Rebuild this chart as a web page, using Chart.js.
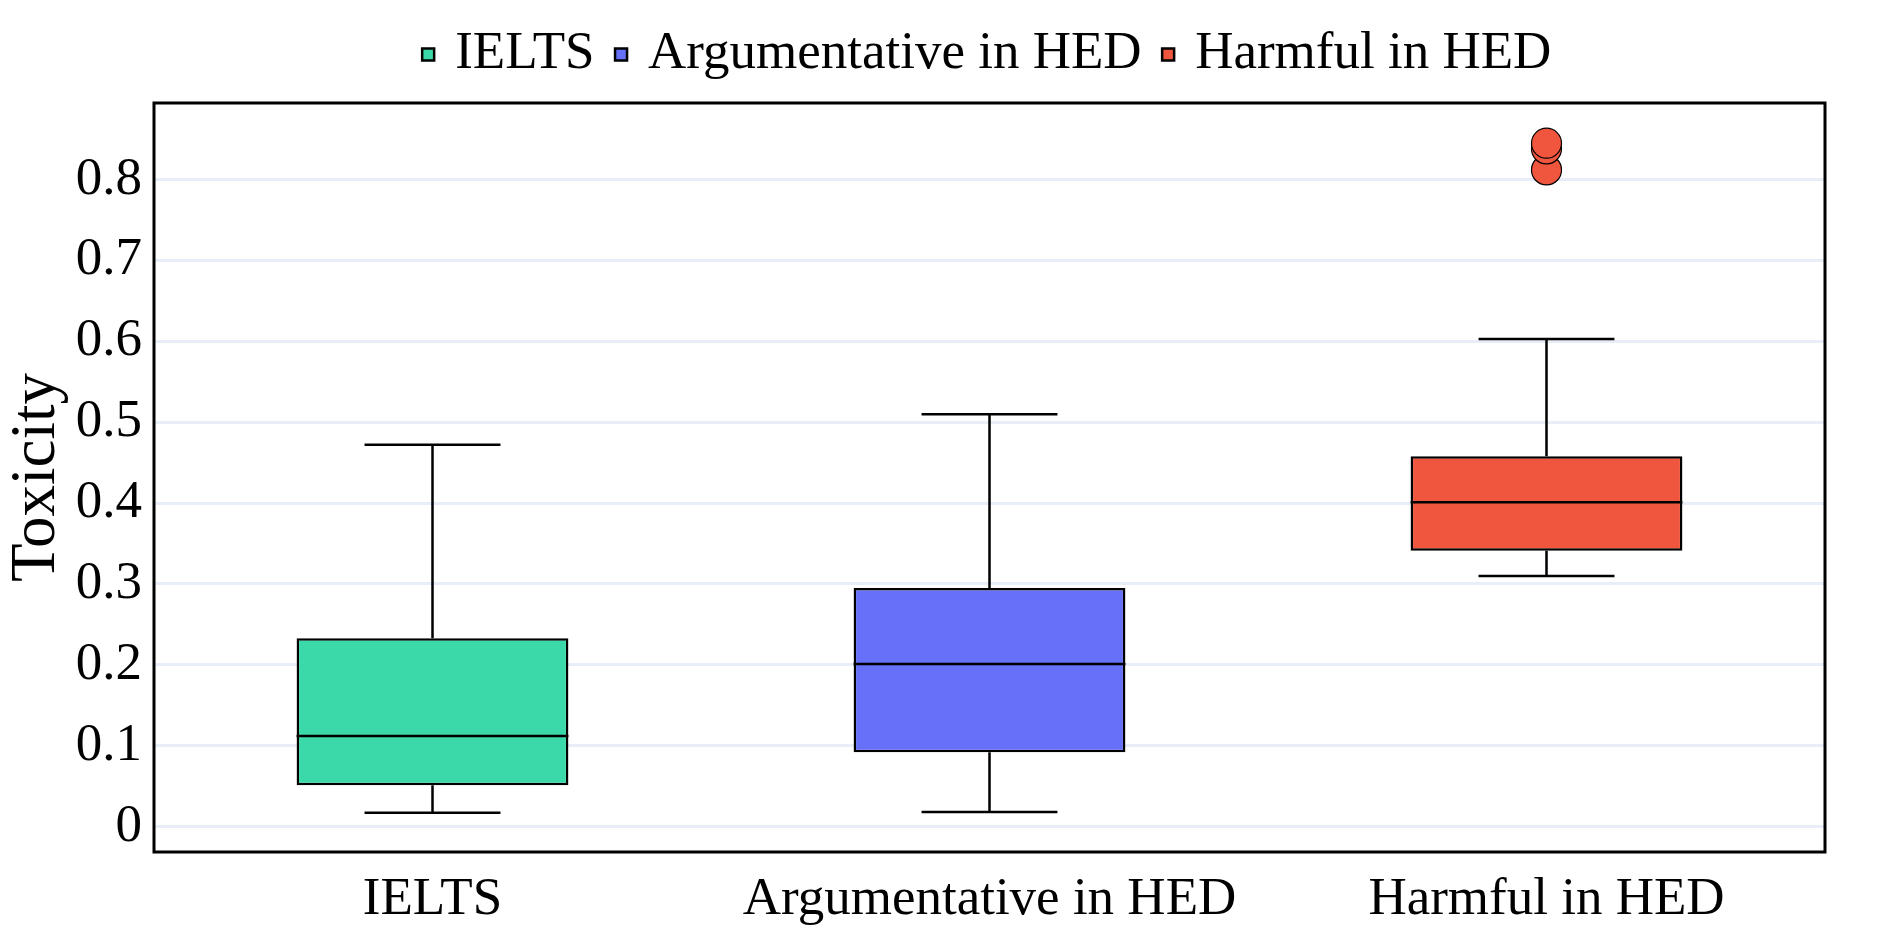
<!DOCTYPE html>
<html><head><meta charset="utf-8">
<script src="https://cdn.jsdelivr.net/npm/chart.js@4"></script>
<style>html,body{margin:0;padding:0;background:#fff}#wrap{width:1904px;height:937px;position:relative}</style>
</head><body><div id="wrap"><canvas id="c"></canvas></div>
<script>
const categories = ['IELTS', 'Argumentative in HED', 'Harmful in HED'];
const lowerWhisker = [0.017, 0.018, 0.310];
const q1 = [0.051, 0.092, 0.341];
const median = [0.112, 0.201, 0.401];
const q3 = [0.233, 0.295, 0.458];
const upperWhisker = [0.472, 0.510, 0.603];
const outlierCategory = 'Harmful in HED';
const outlierValues = [0.812, 0.838, 0.845];
const yTicks = [0, 0.1, 0.2, 0.3, 0.4, 0.5, 0.6, 0.7, 0.8];
const yTickLabels = ['0', '0.1', '0.2', '0.3', '0.4', '0.5', '0.6', '0.7', '0.8'];
const colors = ['#3BD9AA', '#6670F8', '#EF563D'];

const FONT = "'Liberation Serif', 'DejaVu Serif', serif";

const boxDatasets = categories.map((c, i) => ({
  type: 'bar',
  label: c,
  data: categories.map((_, j) => j === i ? [q1[i], q3[i]] : null),
  backgroundColor: colors[i],
  borderColor: '#000',
  borderWidth: 2.5,
  borderSkipped: false,
  grouped: false,
  barPercentage: 0.488,
  categoryPercentage: 1.0,
  order: 1
}));

const outlierDataset = {
  type: 'line',
  label: 'outliers',
  data: outlierValues.map(v => ({x: outlierCategory, y: v})),
  showLine: false,
  pointRadius: 15,
  pointHoverRadius: 15,
  pointBackgroundColor: colors[2],
  pointBorderColor: '#000',
  pointBorderWidth: 1.2,
  order: 0
};

const datasets = [...boxDatasets, outlierDataset];

const boxPlugin = {
  id: 'boxParts',
  beforeLayout(chart) {
    const lg = chart.legend;
    if (lg && !lg._patched) {
      const f = lg.fit;
      lg.fit = function () { f.call(this); this.height += 12; };
      lg._patched = true;
    }
  },
  beforeDatasetsDraw(chart) {
    const ctx = chart.ctx, x = chart.scales.x, y = chart.scales.y;
    ctx.save();
    ctx.strokeStyle = '#000';
    ctx.lineWidth = 2.5;
    categories.forEach((c, i) => {
      const el = chart.getDatasetMeta(i).data[i];
      const cx = x.getPixelForValue(i);
      const half = el.width / 4;
      const pts = [[q3[i], upperWhisker[i]], [q1[i], lowerWhisker[i]]];
      pts.forEach(([a, b]) => {
        const ya = y.getPixelForValue(a), yb = y.getPixelForValue(b);
        ctx.beginPath();
        ctx.moveTo(cx, ya); ctx.lineTo(cx, yb);
        ctx.moveTo(cx - half, yb); ctx.lineTo(cx + half, yb);
        ctx.stroke();
      });
    });
    ctx.restore();
  },
  afterDatasetsDraw(chart) {
    const ctx = chart.ctx, x = chart.scales.x, y = chart.scales.y;
    ctx.save();
    ctx.strokeStyle = '#000';
    ctx.lineWidth = 2.5;
    categories.forEach((c, i) => {
      const el = chart.getDatasetMeta(i).data[i];
      const cx = x.getPixelForValue(i);
      const half = el.width / 2;
      const ym = y.getPixelForValue(median[i]);
      ctx.beginPath();
      ctx.moveTo(cx - half, ym); ctx.lineTo(cx + half, ym);
      ctx.stroke();
    });
    const a = chart.chartArea;
    ctx.lineWidth = 3;
    ctx.strokeRect(a.left, a.top, a.right - a.left, a.bottom - a.top);
    ctx.restore();
  }
};

new Chart(document.getElementById('c'), {
  type: 'bar',
  data: {labels: categories, datasets: datasets},
  options: {
    responsive: true,
    maintainAspectRatio: false,
    animation: false,
    layout: {padding: {left: 0, right: 79, top: 2, bottom: 0}},
    plugins: {
      tooltip: {enabled: false},
      legend: {
        position: 'top',
        fullSize: false,
        labels: {
          filter: (item) => item.text !== 'outliers',
          font: {family: FONT, size: 53},
          color: '#000',
          usePointStyle: true,
          pointStyle: 'rect',
          boxWidth: 1,
          boxHeight: 12,
          padding: 26
        }
      }
    },
    scales: {
      x: {
        type: 'category',
        grid: {display: false, drawTicks: false},
        border: {display: false},
        ticks: {font: {family: FONT, size: 53}, color: '#000', padding: 16, maxRotation: 0},
        afterFit(s) { s.height = 85; }
      },
      y: {
        type: 'linear',
        min: -0.0314,
        max: 0.8947,
        afterBuildTicks(s) { s.ticks = yTicks.map(v => ({value: v})); },
        grid: {color: '#E8EEF7', lineWidth: 3, drawTicks: false},
        border: {display: false},
        ticks: {
          font: {family: FONT, size: 53}, color: '#000', padding: 12,
          callback: (v) => yTickLabels[yTicks.indexOf(v)]
        },
        title: {display: true, text: 'Toxicity', font: {family: FONT, size: 63}, color: '#000', padding: 0},
        afterFit(s) { s.width = 154; }
      }
    }
  },
  plugins: [boxPlugin]
});
</script>
</body></html>
